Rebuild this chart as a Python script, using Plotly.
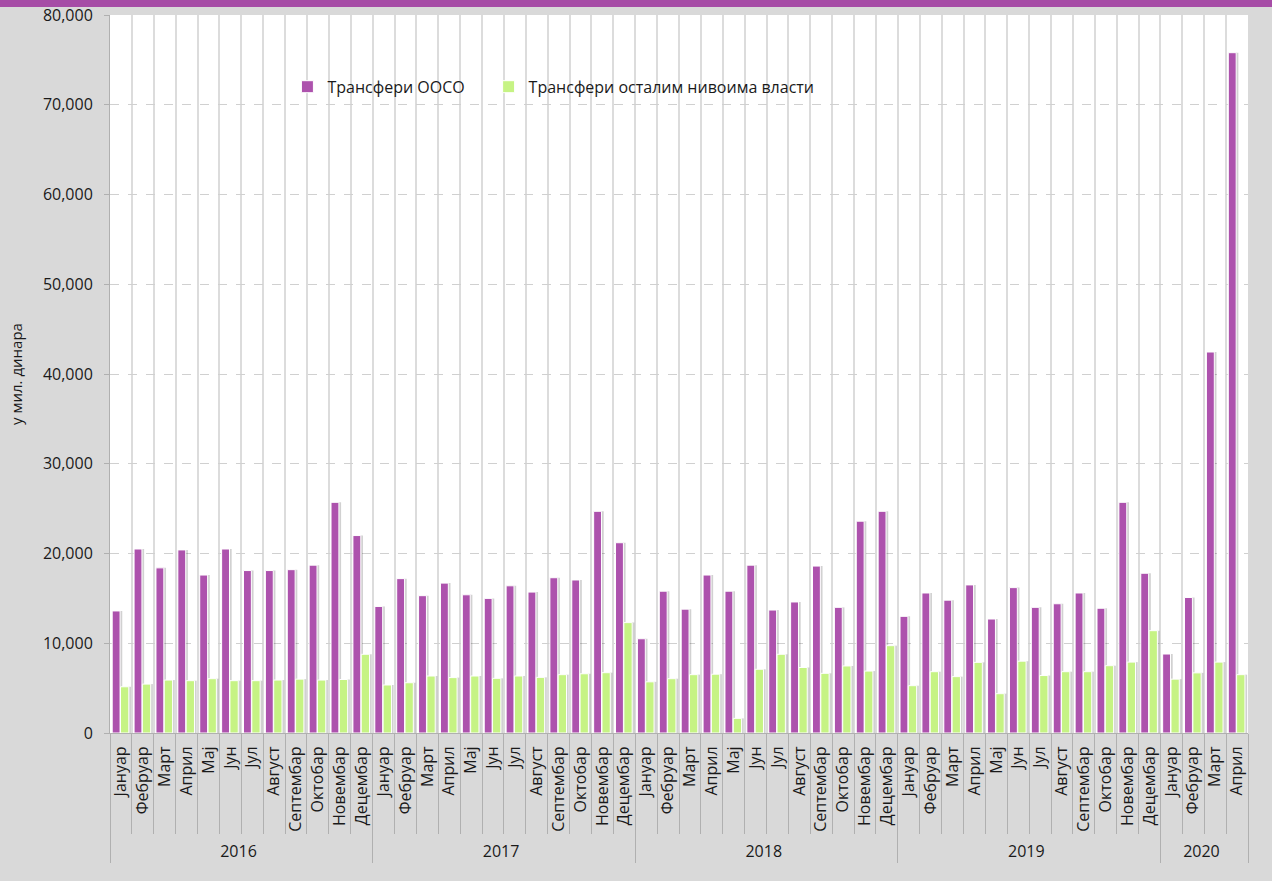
import plotly.graph_objects as go

years = ["2016"] * 12 + ["2017"] * 12 + ["2018"] * 12 + ["2019"] * 12 + ["2020"] * 4
month_names = ["Јануар", "Фебруар", "Март", "Април", "Мај", "Јун", "Јул", "Август",
               "Септембар", "Октобар", "Новембар", "Децембар"]
months = month_names * 4 + month_names[:4]

transfers_ooso = [
    13600, 20500, 18400, 20400, 17600, 20500, 18100, 18100, 18200, 18700, 25700, 22000,
    14100, 17200, 15300, 16700, 15400, 15000, 16400, 15700, 17300, 17050, 24700, 21200,
    10500, 15800, 13800, 17600, 15800, 18700, 13700, 14600, 18600, 14000, 23600, 24700,
    13000, 15600, 14800, 16500, 12700, 16200, 14000, 14400, 15600, 13900, 25700, 17800,
    8800, 15100, 42450, 75800,
]
transfers_other = [
    5150, 5450, 5900, 5830, 6050, 5830, 5830, 5900, 6000, 5900, 5960, 8770,
    5350, 5600, 6350, 6170, 6350, 6090, 6350, 6200, 6500, 6600, 6720, 12300,
    5700, 6050, 6500, 6550, 1630, 7100, 8770, 7300, 6650, 7470, 6900, 9730,
    5270, 6830, 6280, 7870, 4380, 8000, 6400, 6830, 6830, 7500, 7900, 11400,
    6000, 6700, 7900, 6500,
]

name_a = "Трансфери ООСО"
name_b = "Трансфери осталим нивоима власти"
color_a = "#ad52ad"
color_b = "#c6f384"
font_family = "Open Sans, Liberation Sans, sans-serif"

x = [years, months]

fig = go.Figure()
# soft drop shadows behind the bars
fig.add_trace(go.Bar(x=x, y=transfers_ooso, width=0.34, offset=-0.28,
                     marker=dict(color="rgba(0,0,0,0.18)", line=dict(width=0)),
                     showlegend=False, hoverinfo="skip"))
fig.add_trace(go.Bar(x=x, y=transfers_other, width=0.36, offset=0.10,
                     marker=dict(color="rgba(0,0,0,0.18)", line=dict(width=0)),
                     showlegend=False, hoverinfo="skip"))
fig.add_trace(go.Bar(x=x, y=transfers_ooso, name=name_a, width=0.36, offset=-0.40,
                     marker=dict(color=color_a, line=dict(color="white", width=1)),
                     legend="legend"))
fig.add_trace(go.Bar(x=x, y=transfers_other, name=name_b, width=0.38, offset=-0.02,
                     marker=dict(color=color_b, line=dict(color="white", width=1)),
                     legend="legend2"))

legend_common = dict(orientation="h", xanchor="left", yanchor="middle", y=0.90,
                     bgcolor="rgba(0,0,0,0)", font=dict(size=16), itemwidth=30)

fig.update_layout(
    width=1272, height=881,
    paper_bgcolor="#d9d9d9",
    plot_bgcolor="white",
    margin=dict(l=110, r=24, t=15, b=148, autoexpand=False),
    font=dict(family=font_family, size=16, color="#1a1a1a"),
    barmode="overlay",
    legend=dict(x=0.1559, **legend_common),
    legend2=dict(x=0.3327, **legend_common),
    showlegend=True,
    shapes=[dict(type="rect", xref="paper", yref="paper", x0=-0.2, x1=1.2,
                 y0=1.0 + 8 / 718, y1=1.1, fillcolor="#a64ca6", line=dict(width=0),
                 layer="below")],
)

fig.update_xaxes(
    type="multicategory",
    tickangle=-90,
    showgrid=True, gridcolor="#dcdcdc", gridwidth=2,
    tickson="boundaries",
    ticks="outside", ticklen=100, tickcolor="#b0b0b0", tickwidth=1,
    showdividers=True, dividercolor="#b0b0b0", dividerwidth=1,
    showline=True, linecolor="#b0b0b0",
    tickfont=dict(size=16),
    ticklabelstandoff=6,
    automargin=False,
)
fig.update_yaxes(
    range=[0, 80000], dtick=10000, tickformat=",",
    showgrid=True, gridcolor="#d0d0d0", griddash="dash", gridwidth=1,
    ticks="outside", ticklen=5, tickcolor="#b0b0b0",
    ticklabelstandoff=8,
    showline=True, linecolor="#b0b0b0",
    zeroline=False,
    title=dict(text="у мил. динара", font=dict(size=15), standoff=16),
    tickfont=dict(size=16),
    automargin=False,
)

fig.write_html("out.html", config={"displayModeBar": False},
               post_script="document.body.style.margin='0';")
